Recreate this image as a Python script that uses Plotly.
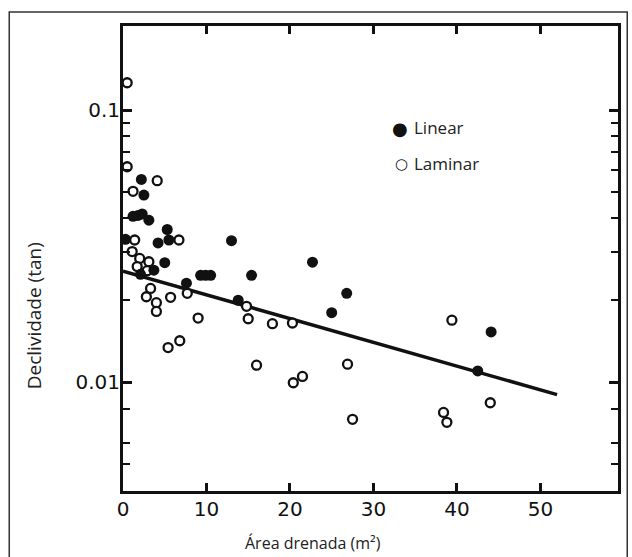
import plotly.graph_objects as go

# ---- data ----
linear_x = [0.3, 1.2, 1.8, 2.3, 3.1, 2.2, 2.5, 4.2, 5.3, 5.5, 5.0, 2.1, 3.7, 7.6,
            9.3, 9.9, 10.5, 13.0, 13.8, 15.4, 22.7, 25.0, 26.8, 42.5, 44.1]
linear_y = [0.0335, 0.0407, 0.041, 0.0415, 0.0394, 0.0556, 0.0487, 0.0325, 0.0364, 0.0333,
            0.0275, 0.0249, 0.0258, 0.0231, 0.0247, 0.0247, 0.0247, 0.0331, 0.0200, 0.0247,
            0.0276, 0.0180, 0.0212, 0.0110, 0.0153]

laminar_x = [0.5, 0.5, 1.2, 4.1, 1.4, 6.7, 1.1, 2.0, 3.1, 1.7, 2.9, 3.3, 2.8, 4.0, 4.0,
             5.7, 7.7, 9.0, 14.8, 15.0, 17.9, 20.3, 5.4, 6.8, 16.0, 20.4, 21.5, 26.9,
             27.5, 39.4, 44.0, 38.4, 38.8]
laminar_y = [0.126, 0.0619, 0.0503, 0.0550, 0.0333, 0.0333, 0.0302, 0.0285, 0.0277, 0.0266,
             0.0257, 0.0221, 0.0206, 0.0196, 0.0182, 0.0205, 0.0212, 0.0172, 0.0190, 0.0171,
             0.0164, 0.0165, 0.0134, 0.0142, 0.01155, 0.00995, 0.0105, 0.01164, 0.0073,
             0.0169, 0.0084, 0.00774, 0.00712]

fit_x = [0.0, 52.0]
fit_y = [0.0256, 0.0090]

x_ticks = [0, 10, 20, 30, 40, 50]
y_ticks = [0.01, 0.1]
y_tick_labels = ["0.01", "0.1"]
y_minor = [0.005, 0.006, 0.008, 0.02, 0.03, 0.04, 0.05, 0.06, 0.07, 0.08, 0.09]

series_names = ["Linear", "Laminar"]

# ---- layout geometry (pixels) ----
W, H = 632, 557
L, R, T, B = 122.5, 620.7, 26.0, 490.7
PW, PH = R - L, B - T


def px(x):
    return (x - L) / PW


def py(y):
    return (B - y) / PH


ink = "#111111"
tick_font = dict(family="DejaVu Sans", size=20, color="#111111")

fig = go.Figure()

fig.add_trace(go.Scatter(x=fit_x, y=fit_y, mode="lines",
                         line=dict(color=ink, width=3.5), showlegend=False,
                         hoverinfo="skip"))
fig.add_trace(go.Scatter(x=laminar_x, y=laminar_y, mode="markers", name=series_names[1],
                         marker=dict(symbol="circle", size=9, color="white",
                                     line=dict(color=ink, width=2.3)),
                         showlegend=False))
fig.add_trace(go.Scatter(x=linear_x, y=linear_y, mode="markers", name=series_names[0],
                         marker=dict(symbol="circle", size=11, color=ink,
                                     line=dict(color=ink, width=0)),
                         showlegend=False))

fig.update_layout(
    width=W, height=H,
    margin=dict(l=L, r=W - R, t=T, b=H - B, pad=0),
    paper_bgcolor="white", plot_bgcolor="white",
    xaxis=dict(range=[0, 59.3], tickvals=x_ticks, ticktext=[str(v) for v in x_ticks],
               ticks="inside", ticklen=8, tickwidth=2.5, tickcolor=ink,
               showline=True, linewidth=3, linecolor=ink, mirror="allticks",
               showgrid=False, zeroline=False, tickfont=tick_font,
               ticklabelstandoff=-2),
    yaxis=dict(type="log", range=[-2.40, -0.691], tickvals=y_ticks, ticktext=y_tick_labels,
               ticks="inside", ticklen=9, tickwidth=2.5, tickcolor=ink,
               showline=True, linewidth=3, linecolor=ink, mirror="allticks",
               showgrid=False, zeroline=False, tickfont=tick_font,
               ticklabelstandoff=-4,
               minor=dict(tickvals=y_minor, ticks="inside", ticklen=7, tickwidth=2,
                          tickcolor=ink, showgrid=False)),
    showlegend=False,
)

# outer border
fig.add_shape(type="rect", xref="paper", yref="paper",
              x0=px(8), x1=px(630), y0=py(600), y1=py(12),
              line=dict(color="#333333", width=1.5), fillcolor="rgba(0,0,0,0)", layer="below")

# axis titles
fig.add_annotation(xref="paper", yref="paper", x=px(314), y=py(543),
                   text="Área drenada (m²)", showarrow=False,
                   font=dict(family="Open Sans", size=16, color="#222222"),
                   xanchor="center", yanchor="middle")
fig.add_annotation(xref="paper", yref="paper", x=px(33), y=py(316),
                   text="Declividade (tan)", showarrow=False,
                   font=dict(family="Open Sans", size=19, color="#222222"),
                   textangle=-90, xanchor="center", yanchor="middle")

# legend (drawn as text glyphs, as in the reference)
fig.add_annotation(xref="paper", yref="paper", x=px(401), y=py(128),
                   text="●", showarrow=False,
                   font=dict(family="DejaVu Sans", size=18, color=ink),
                   xanchor="center", yanchor="middle")
fig.add_annotation(xref="paper", yref="paper", x=px(413), y=py(127),
                   text=series_names[0], showarrow=False,
                   font=dict(family="Open Sans", size=17, color="#222222"),
                   xanchor="left", yanchor="middle")
fig.add_annotation(xref="paper", yref="paper", x=px(403), y=py(164),
                   text="○", showarrow=False,
                   font=dict(family="DejaVu Sans", size=15, color=ink),
                   xanchor="center", yanchor="middle")
fig.add_annotation(xref="paper", yref="paper", x=px(413), y=py(163),
                   text=series_names[1], showarrow=False,
                   font=dict(family="Open Sans", size=17, color="#222222"),
                   xanchor="left", yanchor="middle")

fig.write_html("out.html")
